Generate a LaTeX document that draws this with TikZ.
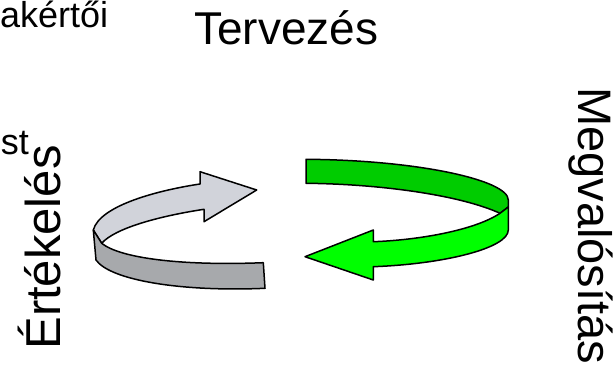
\documentclass[tikz,border=0pt]{standalone}
\usepackage{fontspec}
\setmainfont{Liberation Sans}
\definecolor{darkgreen}{HTML}{00CC00}
\definecolor{lightgreen}{HTML}{00FF00}
\definecolor{lightgray}{HTML}{D1D3DA}
\definecolor{darkgray}{HTML}{A7A9AC}
\tikzset{
  band/.style={draw=black, line width=1.5pt, line join=round},
  biglabel/.style={inner sep=0pt, font=\fontsize{46}{50}\selectfont},
  smalllabel/.style={inner sep=0pt, font=\fontsize{36}{40}\selectfont}
}
\begin{document}
\begin{tikzpicture}[x=1pt, y=-1pt]
\useasboundingbox (0,0) rectangle (616,366);

% labels
\node[smalllabel, anchor=base west] (expert) at (0,28) {akértői};
\node[smalllabel, anchor=base east] (st) at (29,155) {st};
\node[biglabel, anchor=base west] (plan) at (194,45) {Tervezés};
\node[biglabel, font=\fontsize{49}{52}\selectfont, anchor=base, rotate=90] (eval) at (60,247.5) {Értékelés};
\node[biglabel, font=\fontsize{47}{50}\selectfont, anchor=base west, rotate=-90] (impl) at (578,87) {Megvalósítás};

% grey ribbon arrow: back band with the head
\draw[band, fill=lightgray] (93.3,230) .. controls (100,205) and (160,190) .. (200,184)
  -- (200,171.7) -- (256.7,190) -- (204,221.7) -- (204,209.3)
  .. controls (160,216) and (115,228) .. (101.7,243.3) -- cycle;
% grey ribbon arrow: front band
\draw[band, fill=darkgray] (93.3,230) -- (96,260)
  .. controls (110,280) and (180,292) .. (265,288.3) -- (263.3,262.7)
  .. controls (180,266) and (120,258) .. (101.7,243.3) -- cycle;

% green ribbon arrow: back band
\draw[band, fill=darkgreen] (306,159.3) .. controls (417,160) and (508.3,180) .. (508.3,200)
  -- (508.3,207) -- (500,213.3)
  .. controls (460,195) and (380,184) .. (306,183.3) -- cycle;
% green ribbon arrow: front band with the head
\draw[band, fill=lightgreen] (508.3,207) -- (508.3,230)
  .. controls (508.3,248) and (445,264) .. (373.3,266.7)
  -- (373.3,280) -- (305,256.7) -- (373.3,230) -- (373.3,241.7)
  .. controls (420,240) and (475,230) .. (500,213.3) -- cycle;
\end{tikzpicture}
\end{document}
